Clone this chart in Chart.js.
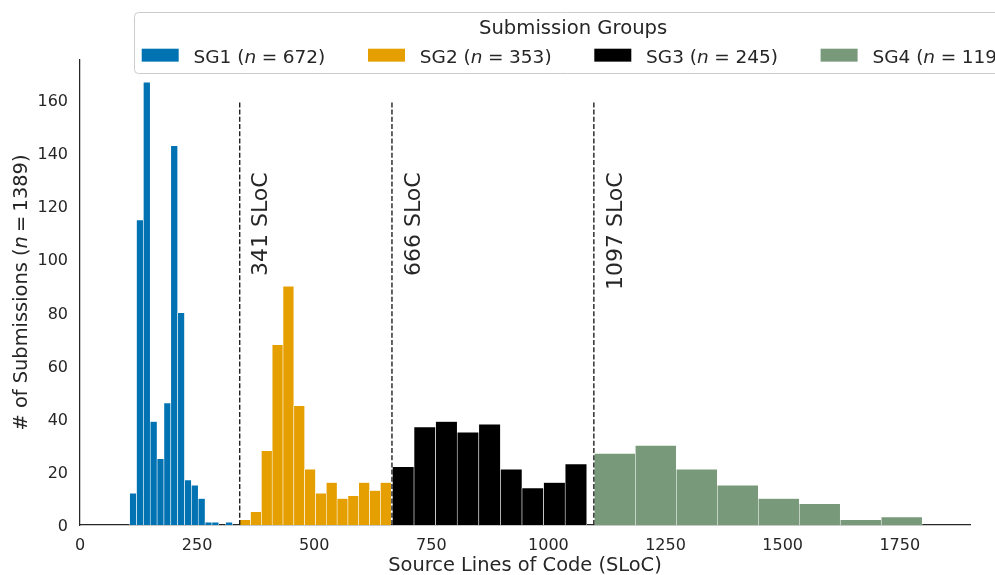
<!DOCTYPE html>
<html>
<head>
<meta charset="utf-8">
<script src="https://cdn.jsdelivr.net/npm/chart.js@4.4.1/dist/chart.umd.min.js"></script>
<style>
html,body{margin:0;padding:0;background:#ffffff;}
#c{display:block;}
</style>
</head>
<body>
<canvas id="c" width="995" height="575"></canvas>
<script>
// ---- data ----
const groupLabels = ['SG1', 'SG2', 'SG3', 'SG4'];
const groupSizes = [672, 353, 245, 119];
const groupColors = ['#0173B2', '#E69F00', '#000000', '#789A7A'];

const sg1Start = 106,  sg1Width = 14.64;
const sg1Counts = [12, 115, 167, 39, 25, 46, 143, 80, 17, 15, 10, 1, 1, 0, 1];
const sg2Start = 341,  sg2Width = 23.1;
const sg2Counts = [2, 5, 28, 68, 90, 45, 21, 12, 16, 10, 11, 16, 13, 16];
const sg3Start = 667,  sg3Width = 46.1;
const sg3Counts = [22, 37, 39, 35, 38, 21, 14, 16, 23];
const sg4Start = 1098, sg4Width = 87.5;
const sg4Counts = [27, 30, 21, 15, 10, 8, 2, 3];

const thresholds = [341, 666, 1097];
const thresholdLabels = ['341 SLoC', '666 SLoC', '1097 SLoC'];
const thresholdLineTop = 160;
const thresholdLabelTop = 133;

const xTickValues = [0, 250, 500, 750, 1000, 1250, 1500, 1750];
const yTickValues = [0, 20, 40, 60, 80, 100, 120, 140, 160];
const xRange = [0, 1900];
const yRange = [0, 175.35];

const xTitle = 'Source Lines of Code (SLoC)';
const yTitlePrefix = '# of Submissions (';
const totalN = 1389;
const legendTitle = 'Submission Groups';

// ---- build ----
const FONT = '"DejaVu Sans", "Liberation Sans", sans-serif';
const TXT = '#262626';
Chart.defaults.font.family = FONT;
Chart.defaults.color = TXT;

function bins(start, width, counts) {
  return counts.map((c, i) => ({ x: start + (i + 0.5) * width, y: c }));
}
const starts = [sg1Start, sg2Start, sg3Start, sg4Start];
const widths = [sg1Width, sg2Width, sg3Width, sg4Width];
const counts = [sg1Counts, sg2Counts, sg3Counts, sg4Counts];
const axisIds = ['x', 'x2', 'x3', 'x4'];

const datasets = groupLabels.map((lab, k) => ({
  label: lab + ' (n = ' + groupSizes[k] + ')',
  data: bins(starts[k], widths[k], counts[k]),
  backgroundColor: groupColors[k],
  borderColor: '#ffffff',
  borderWidth: 0.6,
  borderSkipped: 'start',
  xAxisID: axisIds[k],
  yAxisID: 'y',
  grouped: false,
  categoryPercentage: 1.0,
  barPercentage: 1.0
}));

function setTicks(vals) {
  return function (scale) { scale.ticks = vals.map(v => ({ value: v })); };
}

function xScale(visible) {
  const s = {
    type: 'linear',
    position: 'bottom',
    min: xRange[0],
    max: xRange[1],
    offset: false,
    display: visible,
    grid: { display: false, drawTicks: false },
    border: { display: visible, color: TXT, width: 1.25 },
    ticks: { color: TXT, font: { size: 16 }, padding: 11, maxRotation: 0, autoSkip: false,
             callback: v => String(v) },
    afterBuildTicks: setTicks(xTickValues)
  };
  if (visible) s.afterFit = function (scale) { scale.height = 50; };
  return s;
}

const scales = {
  x: xScale(true),
  x2: xScale(false),
  x3: xScale(false),
  x4: xScale(false),
  y: {
    type: 'linear',
    position: 'left',
    min: yRange[0],
    max: yRange[1],
    grid: { display: false, drawTicks: false },
    border: { display: true, color: TXT, width: 1.25 },
    ticks: { color: TXT, font: { size: 16 }, padding: 12, autoSkip: false, labelOffset: 1.5,
             callback: v => String(v) },
    afterBuildTicks: setTicks(yTickValues),
    afterFit: function (scale) { scale.width = 80; }
  }
};

// parts: [text, italic] or {gap: px}
function measureParts(ctx, parts, size) {
  return parts.map(p => {
    if (p.gap !== undefined) return p.gap;
    ctx.font = (p[1] ? 'italic ' : '') + size + 'px ' + FONT;
    return ctx.measureText(p[0]).width;
  });
}
function drawParts(ctx, parts, x, y, size, align) {
  const ws = measureParts(ctx, parts, size);
  const total = ws.reduce((a, b) => a + b, 0);
  let cx = x;
  if (align === 'center') cx = x - total / 2;
  else if (align === 'right') cx = x - total;
  ctx.textAlign = 'left';
  parts.forEach((p, i) => {
    if (p.gap === undefined) {
      ctx.font = (p[1] ? 'italic ' : '') + size + 'px ' + FONT;
      ctx.fillText(p[0], cx, y);
    }
    cx += ws[i];
  });
  return total;
}
function mathParts(ctx, prefix, num, size, gapFrac) {
  const g = gapFrac * size;
  return [[prefix, false], ['n', true], { gap: g }, ['=', false], { gap: g }, [String(num) + ')', false]];
}

const decor = {
  id: 'decor',
  afterDatasetsDraw(chart) {
    const ctx = chart.ctx;
    const xs = chart.scales.x, ys = chart.scales.y;
    ctx.save();
    ctx.strokeStyle = '#111111';
    ctx.lineWidth = 1.3;
    ctx.setLineDash([5, 2.2]);
    thresholds.forEach(t => {
      const px = xs.getPixelForValue(t);
      ctx.beginPath();
      ctx.moveTo(px, ys.getPixelForValue(0));
      ctx.lineTo(px, ys.getPixelForValue(thresholdLineTop));
      ctx.stroke();
    });
    ctx.setLineDash([]);
    ctx.fillStyle = TXT;
    ctx.font = '22px ' + FONT;
    ctx.textBaseline = 'alphabetic';
    thresholds.forEach((t, i) => {
      const px = xs.getPixelForValue(t) + 27.7;
      const py = ys.getPixelForValue(thresholdLabelTop);
      ctx.save();
      ctx.translate(px, py);
      ctx.rotate(-Math.PI / 2);
      ctx.textAlign = 'right';
      ctx.fillText(thresholdLabels[i], 0, 0);
      ctx.restore();
    });
    ctx.restore();
  },
  afterDraw(chart) {
    const ctx = chart.ctx;
    const area = chart.chartArea;
    const fs = 19.4;
    ctx.save();
    ctx.fillStyle = TXT;
    ctx.textBaseline = 'alphabetic';
    // x title
    drawParts(ctx, [[xTitle, false]], (area.left + area.right) / 2, 571, fs, 'center');
    // y title
    ctx.save();
    ctx.translate(27, (area.top + area.bottom) / 2);
    ctx.rotate(-Math.PI / 2);
    drawParts(ctx, mathParts(ctx, yTitlePrefix, totalN, fs, 0.22), 0, 0, fs, 'center');
    ctx.restore();

    // legend
    const lfs = 18.5, tfs = 19.6;
    const boxLeft = 134, boxTop = 12, boxBottom = 73;
    const handleLen = 2.0 * lfs, handleH = 0.7 * lfs, handlePad = 0.8 * lfs, colSpace = 2.0 * lfs + 5.7;
    const rowBase = 63;
    let x = 141.7;
    const entries = [];
    groupLabels.forEach((lab, k) => {
      const parts = mathParts(ctx, lab + ' (', groupSizes[k], lfs, 0.3);
      const w = measureParts(ctx, parts, lfs).reduce((a, b) => a + b, 0);
      entries.push({ x: x, parts: parts, w: w, color: groupColors[k] });
      x = x + handleLen + handlePad + w + colSpace;
    });
    const last = entries[entries.length - 1];
    const boxRight = last.x + handleLen + handlePad + last.w + 8;
    const r = 4;
    const L = boxLeft + 0.5, T = boxTop + 0.5, R = boxRight + 0.5, B = boxBottom + 0.5;
    ctx.beginPath();
    ctx.moveTo(L + r, T);
    ctx.lineTo(R - r, T);
    ctx.quadraticCurveTo(R, T, R, T + r);
    ctx.lineTo(R, B - r);
    ctx.quadraticCurveTo(R, B, R - r, B);
    ctx.lineTo(L + r, B);
    ctx.quadraticCurveTo(L, B, L, B - r);
    ctx.lineTo(L, T + r);
    ctx.quadraticCurveTo(L, T, L + r, T);
    ctx.closePath();
    ctx.fillStyle = 'rgba(255,255,255,0.8)';
    ctx.fill();
    ctx.strokeStyle = '#cccccc';
    ctx.lineWidth = 1;
    ctx.stroke();
    ctx.fillStyle = TXT;
    drawParts(ctx, [[legendTitle, false]], (boxLeft + boxRight) / 2, 34, tfs, 'center');
    entries.forEach(e => {
      ctx.fillStyle = e.color;
      ctx.fillRect(e.x, rowBase - 14.3, handleLen, handleH);
      ctx.fillStyle = TXT;
      drawParts(ctx, e.parts, e.x + handleLen + handlePad, rowBase, lfs, 'left');
    });
    ctx.restore();
  }
};

new Chart(document.getElementById('c'), {
  type: 'bar',
  data: { datasets: datasets },
  options: {
    responsive: false,
    animation: false,
    layout: { padding: { top: 60, right: 25, left: 0, bottom: 0 } },
    plugins: { legend: { display: false }, tooltip: { enabled: false }, title: { display: false } },
    scales: scales
  },
  plugins: [decor]
});
</script>
</body>
</html>
